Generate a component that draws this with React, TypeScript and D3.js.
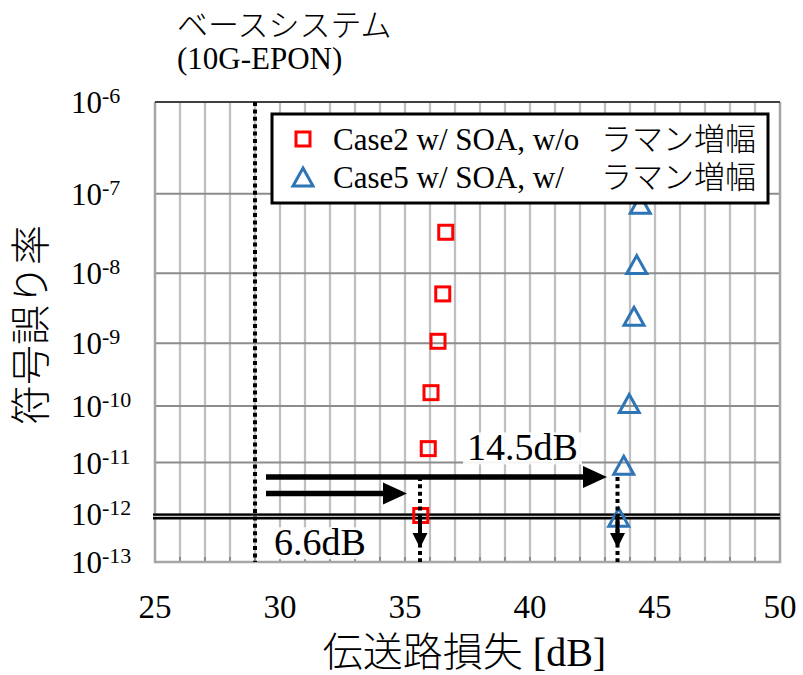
import React, { useEffect, useRef } from 'react';
import * as d3 from 'd3';

// x: 伝送路損失 [dB], y: 符号誤り率 (BER)
const lossTicks = [25, 30, 35, 40, 45, 50];
const berExponents = [-6, -7, -8, -9, -10, -11, -12, -13];

const case2Loss = [36.63, 36.51, 36.32, 36.04, 35.93, 35.63];
const case2Ber = [3.4e-8, 5.2e-9, 1.07e-9, 1.66e-10, 1.8e-11, 9.5e-13];
const case5Loss = [44.41, 44.27, 44.16, 43.97, 43.75, 43.55];
const case5Ber = [7.5e-8, 1.3e-8, 2.5e-9, 1.1e-10, 8.9e-12, 8.7e-13];

const legendLabels = ['Case2 w/ SOA, w/o', 'Case5 w/ SOA, w/'];
const legendSuffix = 'ラマン増幅';

// annotations
const baseLoss = 29;
const targetBer = 1e-12;
const marginEnds = [35.6, 43.5];
const marginLabels = ['6.6dB', '14.5dB'];
const marginLabelLoss = [31.6, 39.7];
const marginLabelBer = [1.4e-13, 1.1e-11];
const arrowStartLoss = 29.44;
const arrowTipLoss = [35.08, 43.08];
const arrowBer = [2.6e-12, 5.4e-12];
const dropEndBer = 2e-13;

const SERIF = "'Liberation Serif', 'Times New Roman', 'Noto Sans CJK JP', serif";

export default function App() {
  const ref = useRef<SVGSVGElement>(null);

  useEffect(() => {
    const svg = d3.select(ref.current);
    svg.selectAll('*').remove();

    const x = d3.scaleLinear().domain([25, 50]).range([155, 780]);
    // BER axis: log of -log10(BER)
    const q = d3.scaleLog().domain([6, 13]).range([102, 562]);
    const y = (ber: number) => q(-Math.log10(ber));
    const top = y(1e-6), bottom = y(1e-13);

    svg.append('rect').attr('width', 803).attr('height', 675).attr('fill', '#fff');

    // vertical grid every 1 dB
    svg.append('g').selectAll('line')
      .data(d3.range(26, 50))
      .enter().append('line')
      .attr('x1', d => x(d)).attr('x2', d => x(d))
      .attr('y1', top).attr('y2', bottom)
      .attr('stroke', '#c0c0c0').attr('stroke-width', 2.3);

    // small inside ticks at bottom
    svg.append('g').selectAll('line')
      .data(d3.range(26, 50))
      .enter().append('line')
      .attr('x1', d => x(d)).attr('x2', d => x(d))
      .attr('y1', bottom - 5).attr('y2', bottom)
      .attr('stroke', '#8c8c8c').attr('stroke-width', 2);

    // horizontal grid at decades
    svg.append('g').selectAll('line')
      .data(berExponents.slice(1, -1))
      .enter().append('line')
      .attr('x1', x(25)).attr('x2', x(50))
      .attr('y1', d => y(10 ** d)).attr('y2', d => y(10 ** d))
      .attr('stroke', '#8c8c8c').attr('stroke-width', 2);

    // frame
    svg.append('path')
      .attr('d', `M${x(25)},${top}V${bottom}H${x(50)}V${top}`)
      .attr('fill', 'none').attr('stroke', '#a6a6a6').attr('stroke-width', 2.5);
    svg.append('line')
      .attr('x1', x(25)).attr('x2', x(50)).attr('y1', top).attr('y2', top)
      .attr('stroke', '#404040').attr('stroke-width', 2);

    // BER = 1e-12 double line
    svg.append('line')
      .attr('x1', x(25) - 2).attr('x2', x(50))
      .attr('y1', y(targetBer) + 2).attr('y2', y(targetBer) + 2)
      .attr('stroke', '#000').attr('stroke-width', 6);
    svg.append('line')
      .attr('x1', x(25) - 2).attr('x2', x(50))
      .attr('y1', y(targetBer) + 2).attr('y2', y(targetBer) + 2)
      .attr('stroke', '#c8c8c8').attr('stroke-width', 1.4);

    // base system dotted line
    svg.append('line')
      .attr('x1', x(baseLoss)).attr('x2', x(baseLoss))
      .attr('y1', top).attr('y2', bottom)
      .attr('stroke', '#000').attr('stroke-width', 4)
      .attr('stroke-dasharray', '4,3.4');

    // markers
    svg.append('g').selectAll('rect')
      .data(case2Loss)
      .enter().append('rect')
      .attr('x', d => x(d) - 7)
      .attr('y', (_, i) => y(case2Ber[i]) - 7)
      .attr('width', 14).attr('height', 14)
      .attr('fill', 'none').attr('stroke', '#ff0000').attr('stroke-width', 3);

    const tri = 'M0,-9L10,9L-10,9Z';
    svg.append('g').selectAll('path')
      .data(case5Loss)
      .enter().append('path')
      .attr('d', tri)
      .attr('transform', (d, i) => `translate(${x(d)},${y(case5Ber[i])})`)
      .attr('fill', 'none').attr('stroke', '#2e75b6').attr('stroke-width', 3)
      .attr('stroke-linejoin', 'miter');

    // dotted drop lines at margin ends
    marginEnds.forEach((d) => {
      svg.append('line')
        .attr('x1', x(d)).attr('x2', x(d))
        .attr('y1', y(arrowBer[1])).attr('y2', bottom)
        .attr('stroke', '#000').attr('stroke-width', 4)
        .attr('stroke-dasharray', '4,3.4');
    });

    // horizontal arrows
    arrowTipLoss.forEach((tip, i) => {
      const yy = y(arrowBer[i]);
      svg.append('line')
        .attr('x1', x(arrowStartLoss)).attr('x2', x(tip) - 20)
        .attr('y1', yy).attr('y2', yy)
        .attr('stroke', '#000').attr('stroke-width', 5.5);
      svg.append('path')
        .attr('d', `M${x(tip)},${yy}L${x(tip) - 24},${yy - 11}L${x(tip) - 24},${yy + 11}Z`)
        .attr('fill', '#000');
    });

    // downward arrows
    marginEnds.forEach((d) => {
      const y0 = y(targetBer) + 2, y1 = y(dropEndBer);
      svg.append('line')
        .attr('x1', x(d)).attr('x2', x(d))
        .attr('y1', y0).attr('y2', y1 - 12)
        .attr('stroke', '#000').attr('stroke-width', 4);
      svg.append('path')
        .attr('d', `M${x(d)},${y1}L${x(d) - 7.5},${y1 - 15}L${x(d) + 7.5},${y1 - 15}Z`)
        .attr('fill', '#000');
    });

    // margin labels with white backing
    marginLabels.forEach((t, i) => {
      const g = svg.append('g');
      const bg = g.append('rect').attr('fill', '#fff').attr('opacity', 0.9);
      const txt = g.append('text')
        .attr('x', x(marginLabelLoss[i]))
        .attr('y', y(marginLabelBer[i]))
        .attr('text-anchor', 'middle')
        .attr('font-family', SERIF).attr('font-size', 38)
        .attr('fill', '#000')
        .text(t);
      const b = (txt.node() as SVGTextElement).getBBox();
      bg.attr('x', b.x - 4).attr('y', b.y + 6).attr('width', b.width + 8).attr('height', b.height - 10);
    });

    // legend
    const lg = svg.append('g');
    lg.append('rect')
      .attr('x', 272).attr('y', 114).attr('width', 496).attr('height', 89)
      .attr('fill', '#fff').attr('stroke', '#000').attr('stroke-width', 3);
    legendLabels.forEach((t, i) => {
      const cy = 139 + i * 38;
      if (i === 0) {
        lg.append('rect').attr('x', 296).attr('y', cy - 7).attr('width', 14).attr('height', 14)
          .attr('fill', 'none').attr('stroke', '#ff0000').attr('stroke-width', 3);
      } else {
        lg.append('path').attr('d', tri).attr('transform', `translate(303,${cy})`)
          .attr('fill', 'none').attr('stroke', '#2e75b6').attr('stroke-width', 3);
      }
      const tx = lg.append('text')
        .attr('y', cy + 11)
        .attr('font-family', SERIF).attr('font-size', 31).attr('fill', '#000');
      tx.append('tspan').attr('x', 333).text(t);
      tx.append('tspan').attr('x', 601).attr('font-weight', 300).text(legendSuffix);
    });

    // x tick labels
    svg.append('g').selectAll('text')
      .data(lossTicks)
      .enter().append('text')
      .attr('x', d => x(d)).attr('y', 618)
      .attr('text-anchor', 'middle')
      .attr('font-family', SERIF).attr('font-size', 33).attr('fill', '#000')
      .text(d => d);

    // y tick labels 10^n
    const yl = svg.append('g').selectAll('text')
      .data(berExponents)
      .enter().append('text')
      .attr('x', 71).attr('y', d => y(10 ** d) + 11)
      .attr('font-family', SERIF).attr('font-size', 31).attr('fill', '#000');
    yl.append('tspan').text('10');
    yl.append('tspan').attr('dy', -10).attr('font-size', 22).text(d => String(d));

    // axis titles
    svg.append('text')
      .attr('x', (x(25) + x(50)) / 2 - 3).attr('y', 666)
      .attr('text-anchor', 'middle')
      .attr('font-family', SERIF).attr('font-size', 40).attr('font-weight', 300).attr('fill', '#000')
      .text('伝送路損失 [dB]');
    svg.append('text')
      .attr('transform', `translate(45,${(top + bottom) / 2 - 7}) rotate(-90)`)
      .attr('text-anchor', 'middle')
      .attr('font-family', SERIF).attr('font-size', 40).attr('font-weight', 300).attr('fill', '#000')
      .text('符号誤り率');

    // base system title
    svg.append('text')
      .attr('x', 177).attr('y', 36)
      .attr('font-family', SERIF).attr('font-size', 31).attr('font-weight', 300).attr('fill', '#000')
      .text('ベースシステム');
    svg.append('text')
      .attr('x', 177).attr('y', 69)
      .attr('font-family', SERIF).attr('font-size', 31).attr('fill', '#000')
      .text('(10G-EPON)');
  }, []);

  return (
    <svg
      ref={ref}
      width={803}
      height={675}
      style={{ position: 'absolute', left: 0, top: 0, display: 'block' }}
    />
  );
}
